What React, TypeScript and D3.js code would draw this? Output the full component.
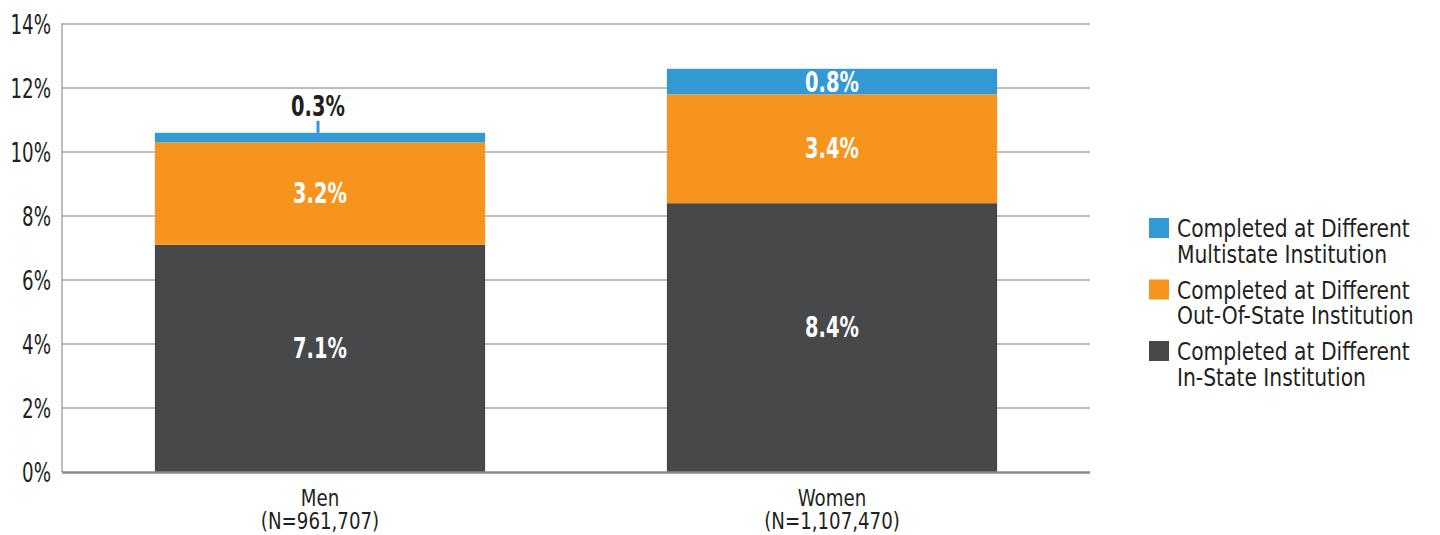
import React from "react";
import * as d3 from "d3";

const categories = ["Men", "Women"];
const categorySubs = ["(N=961,707)", "(N=1,107,470)"];
const inState = [7.1, 8.4];
const outOfState = [3.2, 3.4];
const multistate = [0.3, 0.8];
const yTicks = [0, 2, 4, 6, 8, 10, 12, 14];
const seriesNames = [
  ["Completed at Different", "Multistate Institution"],
  ["Completed at Different", "Out-Of-State Institution"],
  ["Completed at Different", "In-State Institution"],
];
const colors = { multi: "#3399d4", out: "#f7941d", inState: "#47484a" };

const FONT = "'DejaVu Sans Condensed', 'DejaVu Sans', sans-serif";

function T(props: { x: number; y: number; sx?: number; size: number; anchor?: string; weight?: string; fill?: string; lines?: string[]; lh?: number; children?: React.ReactNode }) {
  const { x, y, sx = 1, size, anchor = "start", weight = "normal", fill = "#231f20", lines, lh = 0, children } = props;
  return (
    <text transform={`translate(${x},${y}) scale(${sx},1)`} fontSize={size} textAnchor={anchor} fontWeight={weight} fill={fill}>
      {lines
        ? lines.map((l, i) => (
            <tspan key={i} x={0} y={i * lh}>{l}</tspan>
          ))
        : children}
    </text>
  );
}

export default function App() {
  const W = 1440, H = 535;
  const x0 = 62, x1 = 1090;
  const y = d3.scaleLinear().domain([0, 14]).range([472, 24]);
  const xp = d3.scalePoint<string>().domain(categories).range([64, 1088]).padding(0.5);
  const step = xp.step();
  const bw = step * 0.645;

  const rows = categories.map((c, i) => {
    const s = [
      { key: "inState", v: inState[i], color: colors.inState, dy: -11 },
      { key: "out", v: outOfState[i], color: colors.out, dy: -1 },
      { key: "multi", v: multistate[i], color: colors.multi, dy: 0 },
    ];
    let acc = 0;
    return s.map((d) => {
      const r = { ...d, y0: acc, y1: acc + d.v };
      acc += d.v;
      return r;
    });
  });
  const legendColors = [colors.multi, colors.out, colors.inState];

  return (
    <svg width={W} height={H} style={{ display: "block", position: "absolute", left: 0, top: 0 }} fontFamily={FONT}>
      <rect width={W} height={H} fill="#fff" />
      {yTicks.map((t) => (
        <g key={t}>
          {t > 0 && <line x1={x0} x2={x1} y1={y(t)} y2={y(t)} stroke="#a9a9a9" strokeWidth={1.5} />}
          <T x={51} y={y(t) + 10} sx={0.78} size={26} anchor="end">{t}%</T>
        </g>
      ))}
      <line x1={x0} x2={x0} y1={y(14) - 1} y2={y(0)} stroke="#a9a9a9" strokeWidth={1.5} />
      {rows.map((segs, i) => {
        const cx = xp(categories[i])!;
        return (
          <g key={i}>
            {segs.map((s) => (
              <rect key={s.key} x={cx - bw / 2} width={bw} y={y(s.y1)} height={y(s.y0) - y(s.y1)} fill={s.color} />
            ))}
          </g>
        );
      })}
      <line x1={x0} x2={x1} y1={y(0) + 0.5} y2={y(0) + 0.5} stroke="#8a8a8a" strokeWidth={2.5} />
      {rows.map((segs, i) => {
        const cx = xp(categories[i])!;
        return (
          <g key={"l" + i}>
            {segs.map((s) => {
              if (s.key === "multi" && s.v < 0.5) {
                const top = y(s.y1);
                return (
                  <g key={s.key}>
                    <line x1={cx - 2} x2={cx - 2} y1={top - 12} y2={top} stroke={colors.multi} strokeWidth={3} />
                    <T x={cx - 2} y={top - 17} sx={0.77} size={28} anchor="middle" weight="bold">{s.v.toFixed(1)}%</T>
                  </g>
                );
              }
              const mid = (y(s.y0) + y(s.y1)) / 2 + s.dy;
              return (
                <T key={s.key} x={cx} y={mid + 10.5} sx={0.77} size={28} anchor="middle" weight="bold" fill="#fff">{s.v.toFixed(1)}%</T>
              );
            })}
            <T x={cx} y={506} sx={0.88} size={23} anchor="middle" lines={[categories[i], categorySubs[i]]} lh={23} />
          </g>
        );
      })}
      {seriesNames.map((lines, i) => {
        const top = 218 + i * 61.5;
        return (
          <g key={"lg" + i}>
            <rect x={1149} y={top} width={20} height={20} fill={legendColors[i]} />
            <T x={1177} y={top + 19} sx={0.94} size={24} lines={lines} lh={26} />
          </g>
        );
      })}
    </svg>
  );
}
